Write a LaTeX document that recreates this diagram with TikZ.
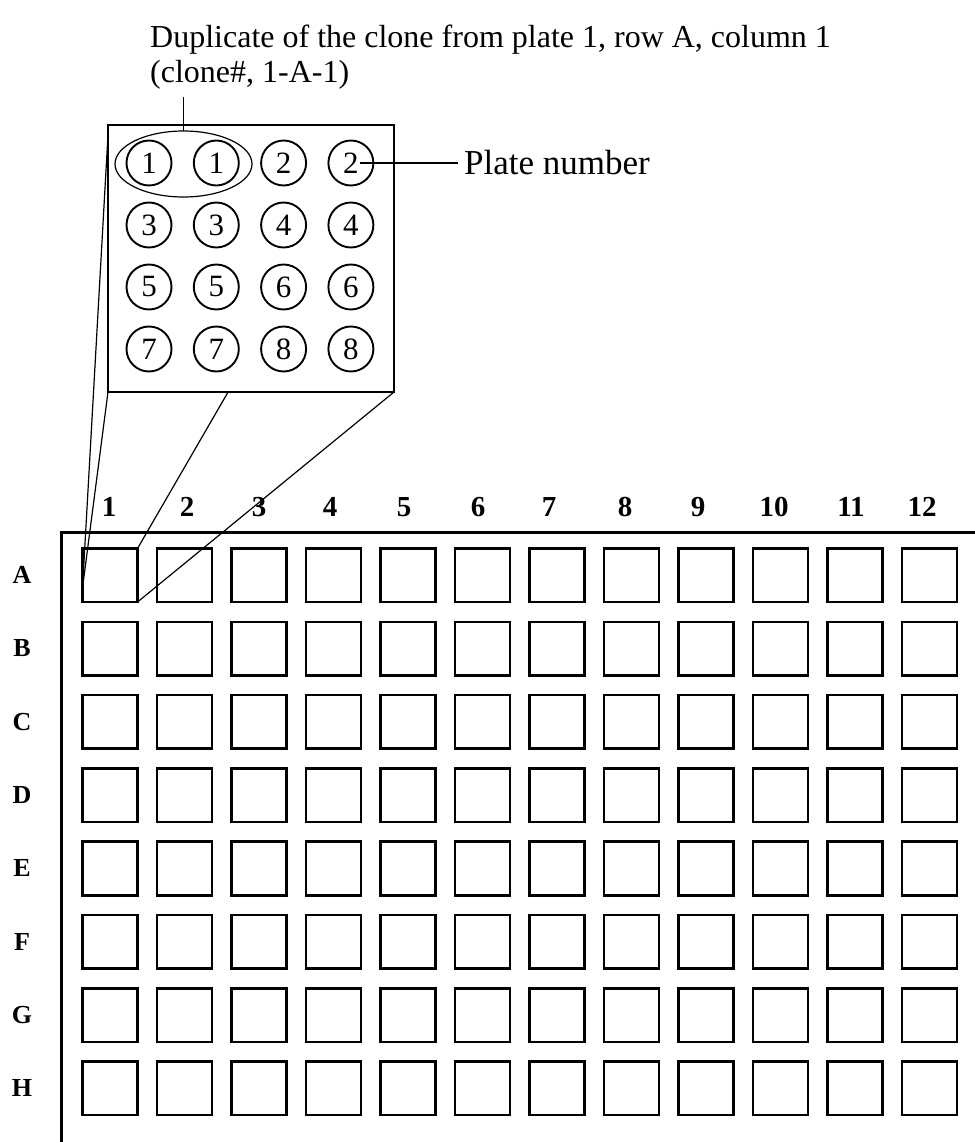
\documentclass[tikz,border=0pt]{standalone}
\usepackage{fontspec}
\setmainfont{Liberation Serif}
\usetikzlibrary{calc,shapes.geometric}
\begin{document}
\begin{tikzpicture}[x=1pt,y=-1pt,
  well/.style={draw,line width=2.6pt,minimum width=55pt,minimum height=53.5pt,inner sep=0pt,outer sep=0pt},
  dish/.style={circle,draw,line width=1.9pt,minimum size=45pt,inner sep=0pt,font=\fontsize{31}{34}\selectfont},
  collab/.style={font=\bfseries\fontsize{29}{32}\selectfont,inner sep=0pt},
  rowlab/.style={font=\bfseries\fontsize{26}{30}\selectfont,inner sep=0pt},
  note/.style={font=\fontsize{32}{38}\selectfont,inner sep=0pt},
  thinline/.style={line width=1.2pt}]
\useasboundingbox (0,0) rectangle (974,1142);
% caption texts
\node[note,anchor=base west] (t1) at (150,48) {Duplicate of the clone from plate 1, row A, column 1};
\node[note,anchor=base west] (t2) at (150,83) {(clone\#, 1-A-1)};
% inset box
\node[draw,line width=2.5pt,minimum width=286pt,minimum height=267pt,inner sep=0pt,outer sep=0pt] (inset) at (251,258.5) {};
\foreach \n [count=\k from 0] in {1,1,2,2,3,3,4,4,5,5,6,6,7,7,8,8} {
  \pgfmathsetmacro\cx{149+67.3*mod(\k,4)}
  \pgfmathsetmacro\cy{163+62*int(\k/4)}
  \node[dish] (c\k) at (\cx,\cy) {\n};
}
\node[draw,ellipse,thinline,minimum width=137pt,minimum height=66pt,inner sep=0pt,outer sep=0pt] (pair) at (183.5,164) {};
\coordinate (t2s) at (183.5,97);
\draw[thinline] (t2s) -- (pair.north);
\node[note,anchor=west,font=\fontsize{35}{40}\selectfont] (pn) at (464,163) {Plate number};
\draw[thinline] ($(c3.center)+(9,0)$) -- ($(pn.west)+(-6,0)$);
% plate frame
\coordinate (ftr) at (980,532);
\coordinate (ftl) at (61,532);
\coordinate (fbl) at (61,1150);
\draw[line width=3pt] (ftr) -- (ftl) -- (fbl);
% wells
\foreach \j in {0,...,7} {
  \foreach \i in {0,...,11} {
    \node[well,anchor=north west] (w\j-\i) at ({82.5+74.5*\i},{548.5+73.3*\j}) {};
  }
}
% column labels
\foreach \x [count=\i] in {109,187,259,330,404,478,549,625,698,774,851,922} {
  \node[collab] (col\i) at (\x,507) {\i};
}
% row labels
\foreach \r [count=\j from 0] in {A,B,C,D,E,F,G,H} {
  \node[rowlab] (row\r) at (22,{575+73.3*\j}) {\r};
}
% projection lines
\coordinate (i1) at ($(inset.north west)+(0,10)$);
\coordinate (a1) at ($(w0-0.south west)+(0,-14)$);
\coordinate (i2) at ($(inset.south west)!0.42!(inset.south east)$);
\draw[thinline] (i1) -- (a1);
\draw[thinline] (inset.south west) -- (a1);
\draw[thinline] (i2) -- (w0-0.north east);
\draw[thinline] (inset.south east) -- (w0-0.south east);
\end{tikzpicture}
\end{document}
